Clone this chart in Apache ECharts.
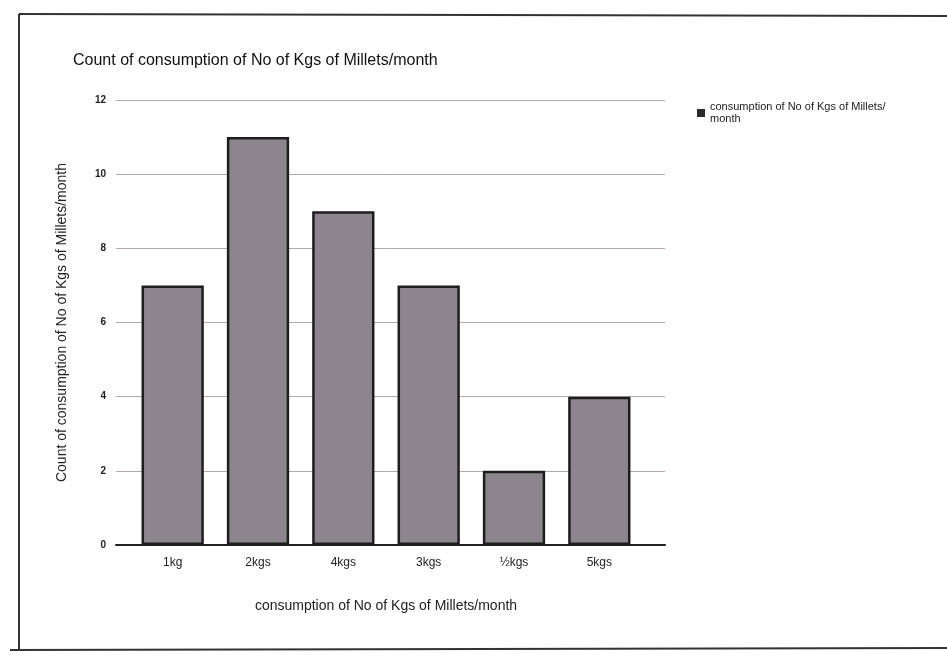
<!doctype html>
<html lang="en">
<head>
<meta charset="UTF-8">
<title>Count of consumption of No of Kgs of Millets/month</title>
<style>
    html, body { margin: 0; padding: 0; background: #fff; }
    #main { width: 947px; height: 655px; }
</style>
</head>
<body>
<div id="main"></div>
<script src="https://cdn.jsdelivr.net/npm/echarts@6/dist/echarts.min.js"></script>
<script type="text/javascript">
    // data
    var categories = ['1kg', '2kgs', '4kgs', '3kgs', '½kgs', '5kgs'];
    var counts = [7, 11, 9, 7, 2, 4];
    var yTicks = [0, 2, 4, 6, 8, 10, 12];
    var seriesName = 'consumption of No of Kgs of Millets/ month';

    var myChart = echarts.init(document.getElementById('main'));

    var font = 'Liberation Sans, Arial, sans-serif';

    var option = {
        backgroundColor: '#ffffff',
        animation: false,
        title: {
            text: 'Count of consumption of No of Kgs of Millets/month',
            left: 68,
            top: 48,
            textStyle: { fontFamily: font, fontSize: 16, fontWeight: 'normal', color: '#111' }
        },
        legend: {
            data: [seriesName],
            left: 692,
            top: 96,
            orient: 'vertical',
            icon: 'rect',
            itemWidth: 8,
            itemHeight: 8,
            itemGap: 4,
            itemStyle: { color: '#2a2a2a', borderWidth: 0 },
            textStyle: { fontFamily: font, fontSize: 11, color: '#222', lineHeight: 12 },
            formatter: function () { return 'consumption of No of Kgs of Millets/\nmonth'; }
        },
        // grid 0: value scale, grid lines and axis line; grid 1: the bars
        grid: [
            { left: 116, right: 947 - 665, top: 100, bottom: 655 - 545 },
            { left: 130, right: 947 - 642, top: 100, bottom: 655 - 545 }
        ],
        xAxis: [
            {
                type: 'category',
                gridIndex: 0,
                data: categories,
                axisLine: { lineStyle: { color: '#222', width: 2 } },
                axisTick: { show: false },
                axisLabel: { show: false }
            },
            {
                type: 'category',
                gridIndex: 1,
                data: categories,
                name: 'consumption of No of Kgs of Millets/month',
                nameLocation: 'middle',
                nameGap: 54,
                nameTextStyle: { fontFamily: font, fontSize: 14, color: '#222' },
                axisLine: { show: false },
                axisTick: { show: false },
                axisLabel: { fontFamily: font, fontSize: 12, color: '#222', margin: 12 }
            }
        ],
        yAxis: [
            {
                type: 'value',
                gridIndex: 0,
                min: yTicks[0],
                max: yTicks[yTicks.length - 1],
                interval: 2,
                name: 'Count of consumption of No of Kgs of Millets/month',
                nameLocation: 'middle',
                nameGap: 47,
                nameTextStyle: { fontFamily: font, fontSize: 14, color: '#222' },
                axisLine: { show: false },
                axisTick: { show: false },
                axisLabel: { fontFamily: font, fontSize: 10, fontWeight: 'bold', color: '#222', margin: 10 },
                splitLine: { lineStyle: { color: '#b4aaae', width: 1 } }
            },
            {
                type: 'value',
                gridIndex: 1,
                min: yTicks[0],
                max: yTicks[yTicks.length - 1],
                interval: 2,
                axisLine: { show: false },
                axisTick: { show: false },
                axisLabel: { show: false },
                splitLine: { show: false }
            }
        ],
        series: [
            {
                name: seriesName,
                type: 'bar',
                xAxisIndex: 1,
                yAxisIndex: 1,
                data: counts,
                barWidth: '73%',
                itemStyle: { color: '#8d858e', borderColor: '#1e1e1e', borderWidth: 2.5 }
            }
        ],
        graphic: [
            { type: 'line', shape: { x1: 19, y1: 14, x2: 947, y2: 16 }, style: { stroke: '#333', lineWidth: 2 } },
            { type: 'line', shape: { x1: 19, y1: 14, x2: 19, y2: 650 }, style: { stroke: '#333', lineWidth: 2 } },
            { type: 'line', shape: { x1: 10, y1: 650, x2: 947, y2: 648 }, style: { stroke: '#333', lineWidth: 2 } }
        ]
    };

    myChart.setOption(option);
</script>
</body>
</html>
